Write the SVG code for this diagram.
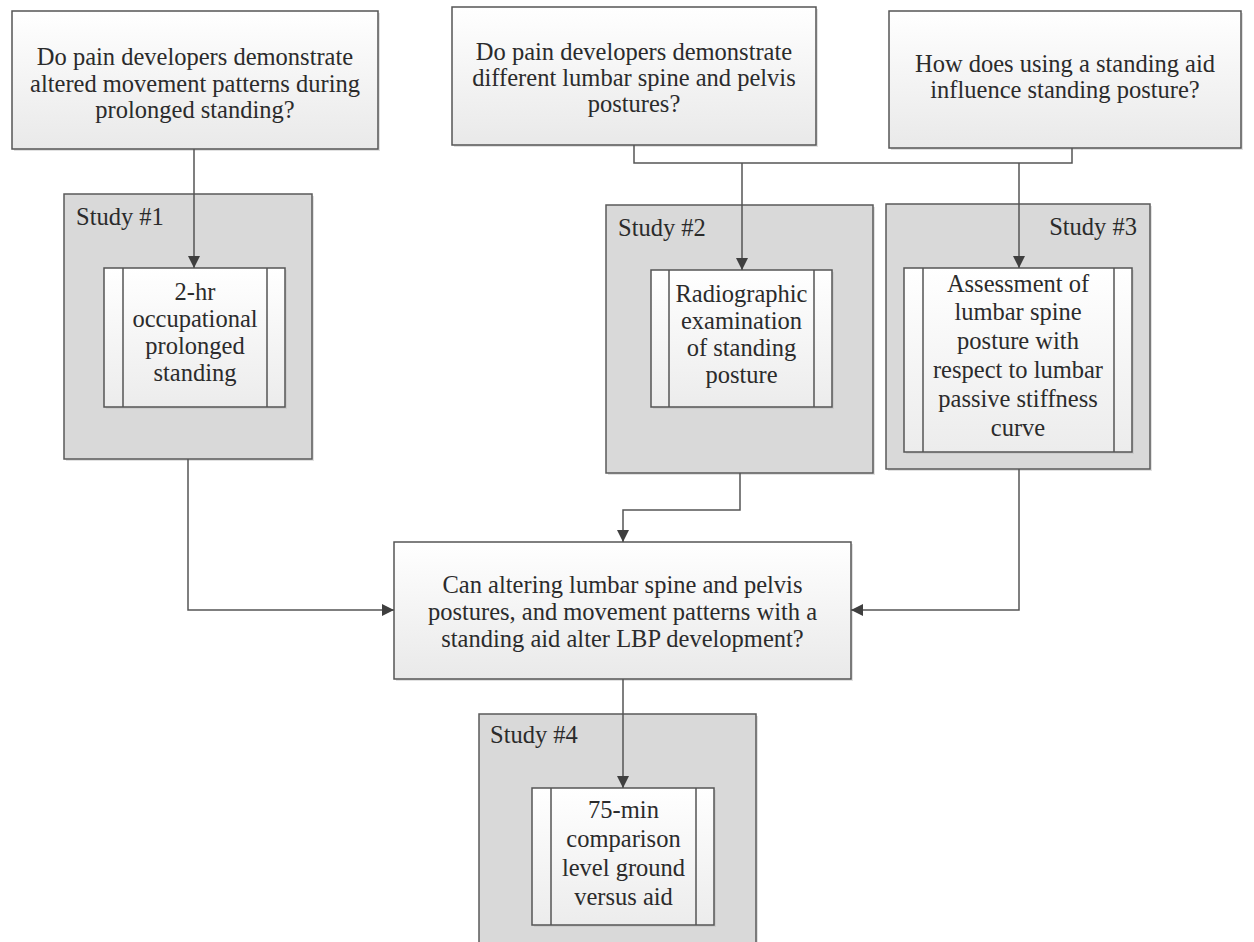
<svg xmlns="http://www.w3.org/2000/svg" width="1254" height="942" viewBox="0 0 1254 942">
<defs>
<linearGradient id="qg" x1="0" y1="0" x2="0" y2="1">
<stop offset="0" stop-color="#ffffff"/>
<stop offset="1" stop-color="#e9e9e9"/>
</linearGradient>
<linearGradient id="ig" x1="0" y1="0" x2="0" y2="1">
<stop offset="0" stop-color="#ffffff"/>
<stop offset="1" stop-color="#ececec"/>
</linearGradient>
<marker id="arr" viewBox="0 0 12 12" refX="12" refY="6" markerWidth="12" markerHeight="12" markerUnits="userSpaceOnUse" orient="auto">
<path d="M0,0 L12,6 L0,12 Z" fill="#3f3f3f"/>
</marker>
</defs>
<style>
text{font-family:"Liberation Serif","Times New Roman",serif;font-size:24.5px;fill:#2b2b2b;}
.c{text-anchor:middle;}
.q{fill:url(#qg);stroke:#555;stroke-width:1.5;}
.s{fill:#d9d9d9;stroke:#5a5a5a;stroke-width:1.5;}
.i{fill:url(#ig);stroke:#555;stroke-width:1.5;}
.sh{fill:#bdbdbd;opacity:0.45;}
.l{fill:none;stroke:#555;stroke-width:1.5;}
.cn{fill:none;stroke:#555;stroke-width:1.5;}
</style>
<rect width="1254" height="942" fill="#ffffff"/>

<g id="q1">
<rect class="sh" x="14" y="13" width="366" height="138"/>
<rect class="q" x="12" y="11" width="366" height="138"/>
<text class="c" x="195" y="65">Do pain developers demonstrate</text>
<text class="c" x="195" y="92">altered movement patterns during</text>
<text class="c" x="195" y="118">prolonged standing?</text>
</g>

<g id="q2">
<rect class="sh" x="454" y="9" width="364" height="138"/>
<rect class="q" x="452" y="7" width="364" height="138"/>
<text class="c" x="634" y="60">Do pain developers demonstrate</text>
<text class="c" x="634" y="86">different lumbar spine and pelvis</text>
<text class="c" x="634" y="112">postures?</text>
</g>

<g id="q3">
<rect class="sh" x="891" y="13" width="352" height="137"/>
<rect class="q" x="889" y="11" width="352" height="137"/>
<text class="c" x="1065" y="72">How does using a standing aid</text>
<text class="c" x="1065" y="98">influence standing posture?</text>
</g>

<g id="study1">
<rect class="sh" x="66" y="196" width="248" height="265"/>
<rect class="s" x="64" y="194" width="248" height="265"/>
<text x="76" y="225">Study #1</text>
<rect class="sh" x="106" y="270" width="181" height="139"/>
<rect class="i" x="104" y="268" width="181" height="139"/>
<line class="l" x1="123" y1="268" x2="123" y2="407"/>
<line class="l" x1="267" y1="268" x2="267" y2="407"/>
<text class="c" x="195" y="300">2-hr</text>
<text class="c" x="195" y="327">occupational</text>
<text class="c" x="195" y="354">prolonged</text>
<text class="c" x="195" y="381">standing</text>
</g>

<g id="study2">
<rect class="sh" x="608" y="207" width="267" height="268"/>
<rect class="s" x="606" y="205" width="267" height="268"/>
<text x="618" y="236">Study #2</text>
<rect class="sh" x="653" y="272" width="181" height="137"/>
<rect class="i" x="651" y="270" width="181" height="137"/>
<line class="l" x1="669" y1="270" x2="669" y2="407"/>
<line class="l" x1="814" y1="270" x2="814" y2="407"/>
<text class="c" x="741.5" y="302">Radiographic</text>
<text class="c" x="741.5" y="329">examination</text>
<text class="c" x="741.5" y="356">of standing</text>
<text class="c" x="741.5" y="383">posture</text>
</g>

<g id="study3">
<rect class="sh" x="888" y="206" width="264" height="265"/>
<rect class="s" x="886" y="204" width="264" height="265"/>
<text x="1137" y="235" text-anchor="end">Study #3</text>
<rect class="sh" x="906" y="270" width="228" height="184"/>
<rect class="i" x="904" y="268" width="228" height="184"/>
<line class="l" x1="923" y1="268" x2="923" y2="452"/>
<line class="l" x1="1114" y1="268" x2="1114" y2="452"/>
<text class="c" x="1018" y="292">Assessment of</text>
<text class="c" x="1018" y="320">lumbar spine</text>
<text class="c" x="1018" y="349">posture with</text>
<text class="c" x="1018" y="378">respect to lumbar</text>
<text class="c" x="1018" y="407">passive stiffness</text>
<text class="c" x="1018" y="436">curve</text>
</g>

<g id="q4">
<rect class="sh" x="396" y="544" width="457" height="137"/>
<rect class="q" x="394" y="542" width="457" height="137"/>
<text class="c" x="622.5" y="593">Can altering lumbar spine and pelvis</text>
<text class="c" x="622.5" y="620">postures, and movement patterns with a</text>
<text class="c" x="622.5" y="647">standing aid alter LBP development?</text>
</g>

<g id="study4">
<rect class="sh" x="481" y="716" width="277" height="240"/>
<rect class="s" x="479" y="714" width="277" height="240"/>
<text x="490" y="743">Study #4</text>
<rect class="sh" x="534" y="790" width="182" height="137"/>
<rect class="i" x="532" y="788" width="182" height="137"/>
<line class="l" x1="551" y1="788" x2="551" y2="925"/>
<line class="l" x1="696" y1="788" x2="696" y2="925"/>
<text class="c" x="623.5" y="818">75-min</text>
<text class="c" x="623.5" y="847">comparison</text>
<text class="c" x="623.5" y="876">level ground</text>
<text class="c" x="623.5" y="905">versus aid</text>
</g>

<g id="connectors">
<path class="cn" d="M194,149 L194,268" marker-end="url(#arr)"/>
<path class="cn" d="M634,145 L634,163 L1072,163 L1072,148"/>
<path class="cn" d="M742,163 L742,270" marker-end="url(#arr)"/>
<path class="cn" d="M1019,163 L1019,268" marker-end="url(#arr)"/>
<path class="cn" d="M188,459 L188,610 L394,610" marker-end="url(#arr)"/>
<path class="cn" d="M740,473 L740,510 L623,510 L623,542" marker-end="url(#arr)"/>
<path class="cn" d="M1019,469 L1019,610 L851,610" marker-end="url(#arr)"/>
<path class="cn" d="M623,679 L623,788" marker-end="url(#arr)"/>
</g>
</svg>
